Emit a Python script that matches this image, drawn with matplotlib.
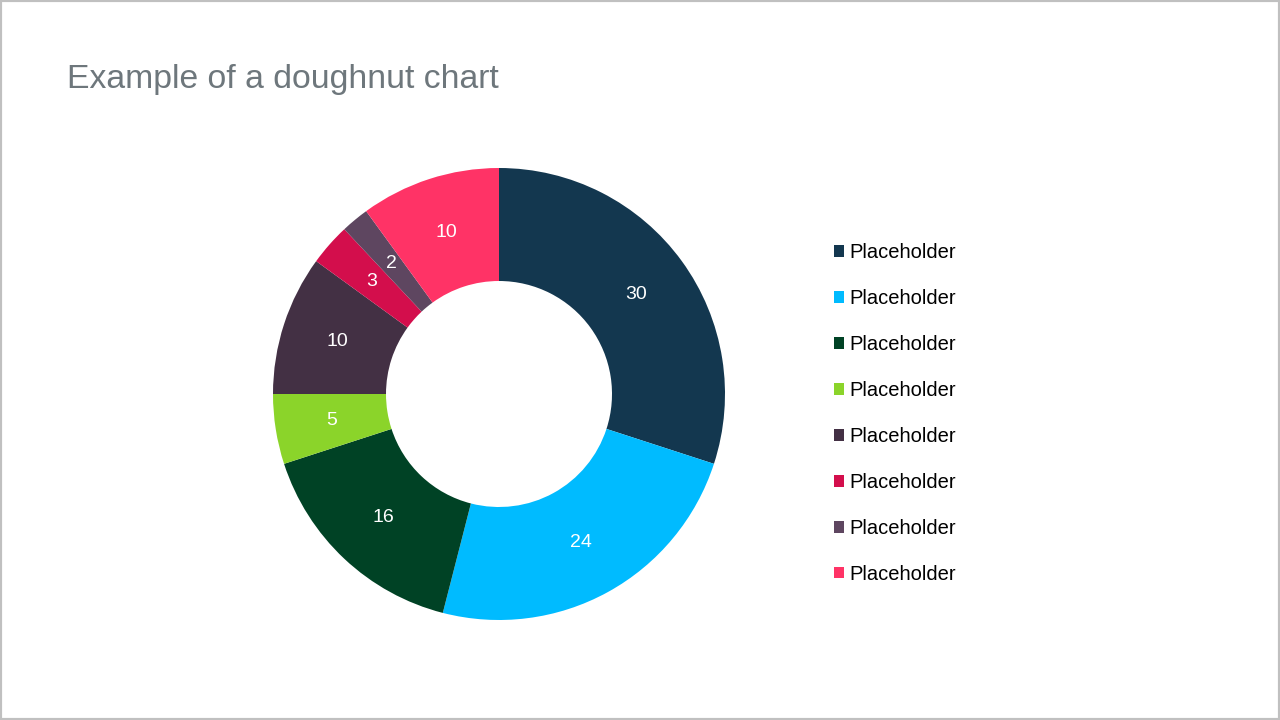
import matplotlib
matplotlib.use("Agg")
import matplotlib.pyplot as plt
from matplotlib.patches import Rectangle

plt.rcParams["font.family"] = ["Liberation Sans", "DejaVu Sans"]

# ------------------------------ Dados ------------------------------
labels = ["Placeholder"] * 8
values = [30, 24, 16, 5, 10, 3, 2, 10]
colors = ["#13374F", "#00BBFF", "#004225", "#8BD42A",
          "#433044", "#D30E4C", "#5E4660", "#FF3366"]
title = "Example of a doughnut chart"

W, H = 1280, 720
CX, CY, R = 499, 394, 226   # centro e raio do anel em pixels


def main():
    fig = plt.figure(figsize=(W / 100, H / 100), dpi=100)
    fig.patch.set_facecolor("white")

    ax = fig.add_axes([(CX - R) / W, (H - CY - R) / H, 2 * R / W, 2 * R / H])
    wedges, texts = ax.pie(
        values, colors=colors, startangle=90, counterclock=False,
        radius=1.0, labels=[str(v) for v in values], labeldistance=0.75,
        wedgeprops=dict(width=0.5, linewidth=0),
        textprops=dict(color="white", fontsize=14, ha="center", va="center"),
    )
    ax.set_xlim(-1, 1)
    ax.set_ylim(-1, 1)
    ax.set_aspect("equal")
    ax.axis("off")

    fig.text(67 / W, 1 - 88 / H, title, fontsize=24.3, color="#6E777C",
             ha="left", va="baseline")

    ax.legend(wedges, labels, loc="upper left",
              bbox_to_anchor=(834 / W, 1 - 243 / H),
              bbox_transform=fig.transFigure,
              frameon=False, fontsize=14.5, borderpad=0, borderaxespad=0,
              handlelength=0.5, handleheight=0.5, handletextpad=0.25,
              labelspacing=1.34)

    # moldura cinza
    fig.add_artist(Rectangle((0, 0), 1, 1, transform=fig.transFigure,
                             fill=False, edgecolor="#C0C0C0", linewidth=3))

    fig.savefig("out.png", dpi=100)


if __name__ == "__main__":
    main()
